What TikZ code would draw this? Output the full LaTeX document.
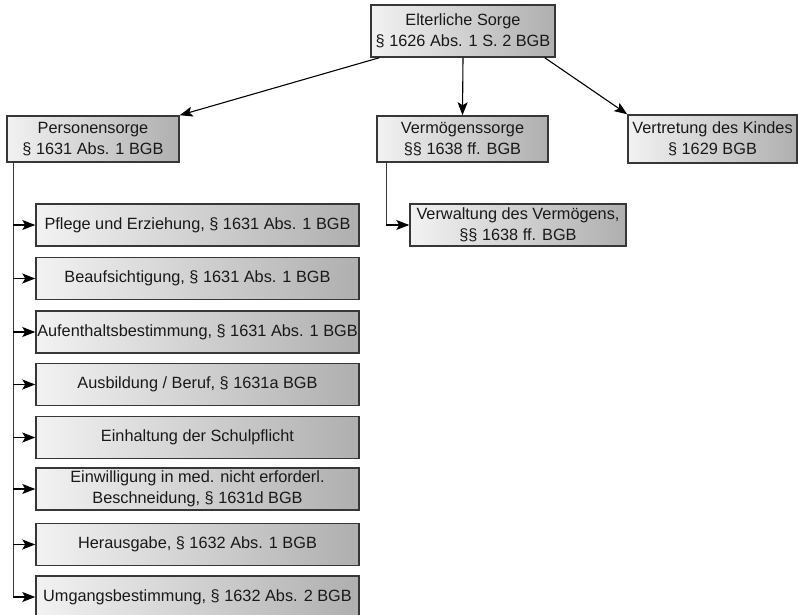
\documentclass[tikz,border=0pt]{standalone}
\usepackage{fontspec}
\setmainfont{Liberation Sans}
\usetikzlibrary{arrows.meta,calc}
\definecolor{gl}{RGB}{242,242,242}
\definecolor{gr}{RGB}{175,175,175}
\definecolor{bd}{RGB}{55,55,55}
\begin{document}
\begin{tikzpicture}[x=1pt,y=-1pt,
  box/.style={draw=bd,line width=1.5pt,left color=gl,right color=gr,shading angle=90,
    inner sep=0pt,align=center,text=black!90,font=\fontsize{16.3}{21.5}\selectfont},
  arr/.style={-{Stealth[length=13pt,width=10pt,inset=3pt]},line width=1.1pt,black},
  conn/.style={line width=1.4pt,bd}]
\useasboundingbox (0,0) rectangle (798,615);
\node[box,minimum width=184pt,minimum height=52pt] (top) at (463,31) {Elterliche Sorge\\§ 1626 Abs. 1 S. 2 BGB};
\node[box,minimum width=172pt,minimum height=46pt] (ps) at (93,139) {Personensorge\\§ 1631 Abs. 1 BGB};
\node[box,minimum width=171pt,minimum height=46pt] (vs) at (462.5,139) {Vermögenssorge\\§§ 1638 ff. BGB};
\node[box,minimum width=169pt,minimum height=48pt] (vk) at (712.5,139) {Vertretung des Kindes\\§ 1629 BGB};
\node[box,minimum width=216pt,minimum height=42pt] (vw) at (518,225) {Verwaltung des Vermögens,\\§§ 1638 ff. BGB};
\foreach \n/\y/\t in {b1/225/{Pflege und Erziehung, § 1631 Abs. 1 BGB},
  b2/278.5/{Beaufsichtigung, § 1631 Abs. 1 BGB},
  b3/332/{Aufenthaltsbestimmung, § 1631 Abs. 1 BGB},
  b4/384.5/{Ausbildung / Beruf, § 1631a BGB},
  b5/437.5/{Einhaltung der Schulpflicht},
  b6/489/{Einwilligung in med. nicht erforderl.\\Beschneidung, § 1631d BGB},
  b7/544.5/{Herausgabe, § 1632 Abs. 1 BGB},
  b8/597/{Umgangsbestimmung, § 1632 Abs. 2 BGB}}
  \node[box,minimum width=323pt,minimum height=42pt] (\n) at (197.5,\y) {\t};
\draw[arr] ($(top.south west)+(9,0)$) -- (ps.north east);
\draw[arr] (top.south) -- (vs.north);
\draw[arr] ($(top.south east)+(-11,0)$) -- (vk.north west);
\draw[conn] ($(ps.south west)+(7,0)$) coordinate (pl) -- (pl |- b8.west);
\foreach \n in {b1,b2,b3,b4,b5,b6,b7,b8}
  \draw[arr] (pl |- \n.west) -- (\n.west);
\draw[conn] ($(vs.south west)+(10,0)$) coordinate (vl) -- (vl |- vw.west);
\draw[arr] (vl |- vw.west) -- (vw.west);
\end{tikzpicture}
\end{document}
